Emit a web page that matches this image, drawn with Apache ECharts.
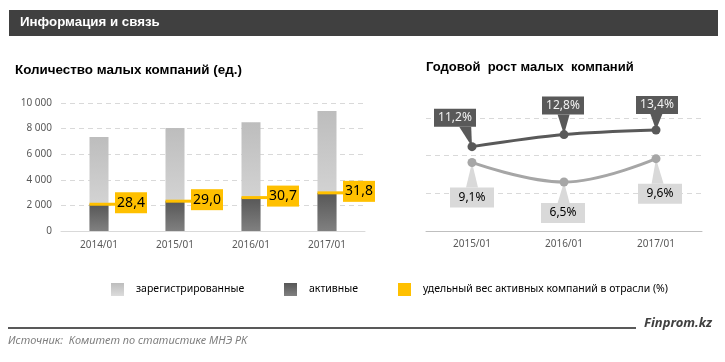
<!DOCTYPE html>
<html><head><meta charset="utf-8">
<script src="https://cdn.jsdelivr.net/npm/echarts@6/dist/echarts.min.js"></script>
<style>html,body{margin:0;padding:0;background:#fff}#c{width:725px;height:362px}</style>
</head><body><div id="c"></div>
<script>
// ---- data ----
const categories = ['2014/01', '2015/01', '2016/01', '2017/01'];
const registered = [7350, 8050, 8500, 9380];
const active = [2090, 2330, 2610, 2980];
const share = [28.4, 29.0, 30.7, 31.8];
const growthCategories = ['2015/01', '2016/01', '2017/01'];
const growthActive = [11.2, 12.8, 13.4];
const growthRegistered = [9.1, 6.5, 9.6];

const SN = ['зарегистрированные', 'активные', 'удельный вес активных компаний в отрасли (%)'];
const FONT = '"Noto Sans", "DejaVu Sans", sans-serif';
const fmtComma = (v, d) => v.toFixed(d).replace('.', ',');

const chart = echarts.init(document.getElementById('c'), null, {renderer: 'canvas'});

function calloutItem(dark, shifts) {
  return function (params, api) {
    const i = params.dataIndex;
    const p = api.coord([api.value(0), api.value(1)]);
    const w = dark ? 42 : 44, h = dark ? 18 : 20;
    const cx = p[0] + shifts[i][0], cy = p[1] + shifts[i][1];
    const bx = cx - w / 2, by = cy - h / 2;
    const baseY = dark ? by + h : by;
    const baseC = cx + 0.6 * (p[0] - cx);
    const color = dark ? '#595959' : '#D9D9D9';
    return {
      type: 'group',
      children: [
        {type: 'polygon', shape: {points: [[baseC - 6, baseY], [baseC + 6, baseY], [p[0], p[1]]]}, style: {fill: color}},
        {type: 'rect', shape: {x: bx, y: by, width: w, height: h}, style: {fill: color}},
        {type: 'text', x: cx, y: cy, style: {text: fmtComma(api.value(1), 1) + '%', fill: dark ? '#F2F2F2' : '#000', font: '12px ' + FONT, align: 'center', verticalAlign: 'middle'}}
      ]
    };
  };
}

const legendBase = {itemWidth: 13, itemHeight: 13, icon: 'rect', selectedMode: false, padding: 0, top: 283,
  textStyle: {fontFamily: FONT, fontSize: 10.5, color: '#000', padding: [0, 0, 0, 7]}};

const option = {
  animation: false,
  backgroundColor: '#fff',
  graphic: [
    {type: 'rect', left: 9, top: 10, shape: {width: 709, height: 26}, style: {fill: '#404040'}},
    {type: 'text', left: 20, top: 16, style: {text: 'Информация и связь', fill: '#fff', font: 'bold 13.3px "Liberation Sans", Arial, sans-serif'}},
    {type: 'text', left: 15, top: 64, style: {text: 'Количество малых компаний (ед.)', fill: '#000', font: 'bold 13.4px "Liberation Sans", Arial, sans-serif'}},
    {type: 'text', left: 426, top: 61, style: {text: 'Годовой  рост малых  компаний', fill: '#000', font: 'bold 13px "Liberation Sans", Arial, sans-serif'}},
    {type: 'rect', left: 8, top: 327, shape: {width: 628, height: 2}, style: {fill: '#595959'}},
    {type: 'text', left: 644, top: 317, style: {text: 'Finprom.kz', fill: '#404040', font: 'italic bold 13px ' + FONT}},
    {type: 'text', left: 8, top: 335, style: {text: 'Источник:  Комитет по статистике МНЭ РК', fill: '#7F7F7F', font: 'italic 11px ' + FONT}}
  ],
  legend: [
    Object.assign({}, legendBase, {data: [SN[0]], left: 111}),
    Object.assign({}, legendBase, {data: [SN[1]], left: 284}),
    Object.assign({}, legendBase, {data: [SN[2]], left: 398})
  ],
  grid: [
    {left: 61, right: 360, top: 103, bottom: 131},
    {left: 426, right: 23, top: 118, bottom: 131}
  ],
  xAxis: [
    {type: 'category', gridIndex: 0, data: categories, axisTick: {show: false},
     axisLine: {lineStyle: {color: '#D9D9D9'}},
     axisLabel: {color: '#595959', fontFamily: FONT, fontSize: 10, margin: 9}},
    {type: 'category', gridIndex: 1, data: growthCategories, axisTick: {show: false},
     axisLine: {lineStyle: {color: '#BFBFBF'}},
     axisLabel: {color: '#595959', fontFamily: FONT, fontSize: 10, margin: 8}}
  ],
  yAxis: [
    {type: 'value', gridIndex: 0, min: 0, max: 10000, interval: 2000,
     axisLine: {show: false}, axisTick: {show: false},
     splitLine: {lineStyle: {color: '#D9D9D9', type: [5, 4]}},
     axisLabel: {color: '#595959', fontFamily: FONT, fontSize: 10, margin: 9,
       formatter: v => String(v).replace(/\B(?=(\d{3})+(?!\d))/g, ' ')}},
    {type: 'value', gridIndex: 1, min: 0, max: 15, interval: 5,
     axisLine: {show: false}, axisTick: {show: false}, axisLabel: {show: false},
     splitLine: {lineStyle: {color: '#D9D9D9', type: [5, 4]}}}
  ],
  series: [
    {name: SN[0], type: 'bar', xAxisIndex: 0, yAxisIndex: 0, data: registered, barWidth: 19,
     itemStyle: {color: new echarts.graphic.LinearGradient(0, 0, 0, 1, [{offset: 0, color: '#BDBDBD'}, {offset: 1, color: '#DCDCDC'}])}},
    {name: SN[1], type: 'bar', xAxisIndex: 0, yAxisIndex: 0, data: active, barWidth: 19, barGap: '-100%',
     itemStyle: {color: new echarts.graphic.LinearGradient(0, 0, 0, 1, [{offset: 0, color: '#575757'}, {offset: 1, color: '#808080'}])}},
    {name: SN[2], type: 'custom', xAxisIndex: 0, yAxisIndex: 0, clip: false, z: 5,
     itemStyle: {color: '#FFC000'},
     data: categories.map((c, i) => [i, active[i], share[i]]),
     renderItem: function (params, api) {
       const p = api.coord([api.value(0), api.value(1)]);
       return {type: 'group', children: [
         {type: 'rect', shape: {x: p[0] - 9.5, y: p[1] - 1.5, width: 28, height: 3}, style: {fill: '#FFC000'}},
         {type: 'rect', shape: {x: p[0] + 16, y: p[1] - 12, width: 32, height: 21}, style: {fill: '#FFC000'}},
         {type: 'text', x: p[0] + 32, y: p[1] - 1.5, style: {text: fmtComma(api.value(2), 1), fill: '#000', font: '14px ' + FONT, align: 'center', verticalAlign: 'middle'}}
       ]};
     }},
    {name: 'growthActiveLabels', type: 'custom', xAxisIndex: 1, yAxisIndex: 1, clip: false, z: 1,
     data: growthActive.map((v, i) => [i, v]),
     renderItem: calloutItem(true, [[-17, -29], [-1, -29], [1, -25]])},
    {name: 'growthRegisteredLabels', type: 'custom', xAxisIndex: 1, yAxisIndex: 1, clip: false, z: 1,
     data: growthRegistered.map((v, i) => [i, v]),
     renderItem: calloutItem(false, [[0, 35], [-1, 31], [4, 35]])},
    {name: 'growthActive', type: 'line', xAxisIndex: 1, yAxisIndex: 1, data: growthActive, smooth: 0.3, z: 3,
     symbol: 'circle', symbolSize: 9, lineStyle: {color: '#595959', width: 3}, itemStyle: {color: '#595959'}},
    {name: 'growthRegistered', type: 'line', xAxisIndex: 1, yAxisIndex: 1, data: growthRegistered, smooth: 0.4, z: 3,
     symbol: 'circle', symbolSize: 9, lineStyle: {color: '#A6A6A6', width: 3}, itemStyle: {color: '#A6A6A6'}}
  ]
};
chart.setOption(option);
</script>
</body></html>
